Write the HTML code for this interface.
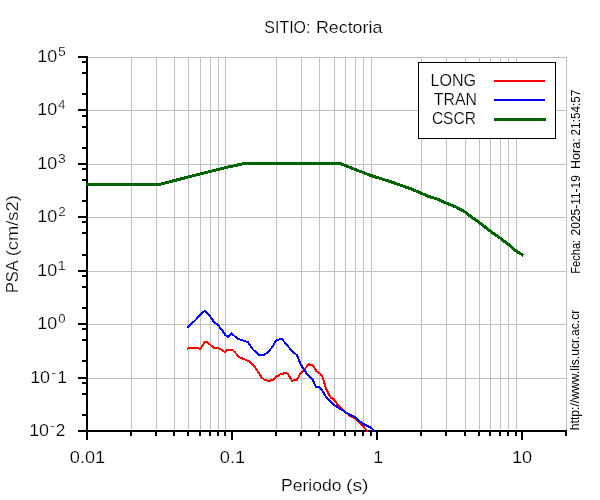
<!DOCTYPE html><html><head><meta charset="utf-8"><style>html,body{margin:0;padding:0;background:#fff;overflow:hidden}svg{display:block;will-change:transform}text{font-family:"Liberation Sans",sans-serif;fill:#000;stroke:#fff;stroke-width:0.2px}</style></head><body>
<svg width="600" height="500" viewBox="0 0 600 500">
<rect width="600" height="500" fill="#fff"/>
<path d="M131.5 57V431 M156.5 57V431 M174.5 57V431 M188.5 57V431 M200.5 57V431 M210.5 57V431 M218.5 57V431 M225.5 57V431 M276.5 57V431 M301.5 57V431 M319.5 57V431 M334.5 57V431 M345.5 57V431 M355.5 57V431 M363.5 57V431 M371.5 57V431 M421.5 57V431 M446.5 57V431 M465.5 57V431 M479.5 57V431 M490.5 57V431 M500.5 57V431 M508.5 57V431 M516.5 57V431 M566.5 57V431 M87 378.5H567 M87 324.5H567 M87 271.5H567 M87 217.5H567 M87 164.5H567 M87 110.5H567 M87 57.5H567" stroke="#c0c0c0" stroke-width="1" fill="none"/>
<path d="M78 431H88 M82 415H88 M82 394H88 M82 383H88 M78 378H88 M82 361H88 M82 340H88 M82 329H88 M78 324H88 M82 308H88 M82 287H88 M82 276H88 M78 271H88 M82 255H88 M82 233H88 M82 222H88 M78 217H88 M82 201H88 M82 180H88 M82 169H88 M78 164H88 M82 148H88 M82 127H88 M82 116H88 M78 110H88 M82 94H88 M82 73H88 M82 62H88 M78 57H88 M87 430V440 M232 430V440 M377 430V440 M522 430V440 M131 430V436 M156 430V436 M174 430V436 M188 430V436 M200 430V436 M210 430V436 M218 430V436 M225 430V436 M276 430V436 M301 430V436 M319 430V436 M334 430V436 M345 430V436 M355 430V436 M363 430V436 M371 430V436 M421 430V436 M446 430V436 M465 430V436 M479 430V436 M490 430V436 M500 430V436 M508 430V436 M516 430V436 M566 430V436 M87 56V432 M86 431H567" stroke="#000" stroke-width="2" fill="none"/>
<defs><clipPath id="c"><rect x="86" y="56" width="481" height="376"/></clipPath></defs>
<g clip-path="url(#c)" fill="none" stroke-linejoin="miter" shape-rendering="crispEdges">
<polyline points="187,349 190.5,347.6 196.5,347.6 200.3,349 205,341.8 207.2,342.2 214,348 218.3,348 225,352 227.5,349.6 232,349.6 234.9,352.2 239.1,357.1 244,359.2 248.9,361.3 255.2,367.6 258.7,372.5 261.5,377.4 265,380.2 269.2,380.9 273.4,379.5 276.2,376.7 280.4,374.3 286,372.9 287.8,374.1 292,380.7 296.9,379.7 300.4,373.4 304.6,369.2 308.8,364.3 313,365.7 316.5,371.3 320,373.4 322.8,377.6 326,388.4 329,394.4 330.8,397.8 333.8,399.2 336.8,403.4 339.2,406.4 344,411 350,416 354.8,418.4 361.3,424.4 367.8,431.5" stroke="#ff0000" stroke-width="2"/>
<polyline points="187.3,327.3 195.2,320.4 201.8,313.2 204.8,310.8 209.6,315.6 213.8,321.6 217.4,324.6 221.6,329.4 225.2,334.8 228.2,337 231.8,333.6 237.7,338.9 242.6,340.3 248.2,342.4 252.4,349 259.4,355.2 263.6,355.2 267.8,352.2 272.7,346.6 275.5,341 278.3,339.6 281.8,339 286,343.8 291.3,350.3 296.9,355.2 300.4,363.6 303.2,368.5 308.1,375.5 313,380.4 315.8,386.7 318.6,386.7 322.1,390.2 326.6,398 332,403.4 338,407.6 344,411.2 350,414.8 354.8,417.2 362,423.2 368,426.2 371.6,428 374,431" stroke="#0000ff" stroke-width="2"/>
<polyline points="86,184.5 159,184.5 174.2,180.6 200,174 225,167.7 245,163.4 340,163.4 355,169.4 371.7,175.8 390,181.5 410,188.5 421.7,193.4 428,196.3 436,198.5 446,203 455,206.5 465.5,212.3 470,216 475,219.5 480,223 485,227 490,231 495,234.5 500,238 508,244 516,251 523.5,255.5" stroke="#006400" stroke-width="3"/>
</g>
<rect x="418.5" y="62.5" width="137" height="76" fill="#fff" stroke="#000" stroke-width="1"/>
<path d="M494 81H545" stroke="#ff0000" stroke-width="2"/>
<path d="M494 100H545" stroke="#0000ff" stroke-width="2"/>
<path d="M494 119.5H546" stroke="#006400" stroke-width="3"/>
<text x="264.37" y="33" font-size="16.6" textLength="46.12" lengthAdjust="spacingAndGlyphs">SITIO:</text>
<text x="315.95" y="33" font-size="16.6" textLength="66.43" lengthAdjust="spacingAndGlyphs">Rectoria</text>
<text x="280.92" y="490.5" font-size="16.6" textLength="60.59" lengthAdjust="spacingAndGlyphs">Periodo</text>
<text x="345.93" y="490.5" font-size="16.6" textLength="22.64" lengthAdjust="spacingAndGlyphs">(s)</text>
<text x="69.83" y="463" font-size="16.6" textLength="35.41" lengthAdjust="spacingAndGlyphs">0.01</text>
<text x="219.81" y="463" font-size="16.6" textLength="25.28" lengthAdjust="spacingAndGlyphs">0.1</text>
<text x="373.28" y="463" font-size="16.6" textLength="9.76" lengthAdjust="spacingAndGlyphs">1</text>
<text x="511.91" y="463" font-size="16.6" textLength="20.21" lengthAdjust="spacingAndGlyphs">10</text>
<text x="430.48" y="85.8" font-size="16.6" textLength="45.65" lengthAdjust="spacingAndGlyphs">LONG</text>
<text x="433.78" y="104.7" font-size="16.6" textLength="43.14" lengthAdjust="spacingAndGlyphs">TRAN</text>
<text x="431.89" y="123.8" font-size="16.6" textLength="44.07" lengthAdjust="spacingAndGlyphs">CSCR</text>
<text transform="translate(18,293.07) rotate(-90)" font-size="16.6" textLength="32.77" lengthAdjust="spacingAndGlyphs">PSA</text>
<text transform="translate(18,256.35) rotate(-90)" font-size="16.6" textLength="61.24" lengthAdjust="spacingAndGlyphs">(cm/s2)</text>
<text transform="translate(579.6,273.70) rotate(-90)" font-size="12" style="stroke-width:0" textLength="33.88" lengthAdjust="spacingAndGlyphs">Fecha:</text>
<text transform="translate(579.6,235.40) rotate(-90)" font-size="12" style="stroke-width:0" textLength="60.18" lengthAdjust="spacingAndGlyphs">2025-11-19</text>
<text transform="translate(579.6,169.04) rotate(-90)" font-size="12" style="stroke-width:0" textLength="30.70" lengthAdjust="spacingAndGlyphs">Hora:</text>
<text transform="translate(579.6,135.41) rotate(-90)" font-size="12" style="stroke-width:0" textLength="45.73" lengthAdjust="spacingAndGlyphs">21:54:57</text>
<text transform="translate(579,430.28) rotate(-90)" font-size="12" style="stroke-width:0" textLength="120.58" lengthAdjust="spacingAndGlyphs">http://www.lis.ucr.ac.cr</text>
<text x="37.16" y="329" font-size="16.6" textLength="20.00" lengthAdjust="spacingAndGlyphs">10</text>
<text x="58.30" y="323" font-size="12.5" textLength="7.31" lengthAdjust="spacingAndGlyphs">0</text>
<text x="37.16" y="276" font-size="16.6" textLength="20.00" lengthAdjust="spacingAndGlyphs">10</text>
<text x="57.45" y="270" font-size="12.5" textLength="8.47" lengthAdjust="spacingAndGlyphs">1</text>
<text x="37.16" y="222" font-size="16.6" textLength="20.00" lengthAdjust="spacingAndGlyphs">10</text>
<text x="58.17" y="216" font-size="12.5" textLength="7.52" lengthAdjust="spacingAndGlyphs">2</text>
<text x="37.16" y="169" font-size="16.6" textLength="20.00" lengthAdjust="spacingAndGlyphs">10</text>
<text x="58.05" y="163" font-size="12.5" textLength="7.73" lengthAdjust="spacingAndGlyphs">3</text>
<text x="37.16" y="115" font-size="16.6" textLength="20.00" lengthAdjust="spacingAndGlyphs">10</text>
<text x="58.32" y="109" font-size="12.5" textLength="7.16" lengthAdjust="spacingAndGlyphs">4</text>
<text x="37.16" y="62" font-size="16.6" textLength="20.00" lengthAdjust="spacingAndGlyphs">10</text>
<text x="57.95" y="56" font-size="12.5" textLength="7.77" lengthAdjust="spacingAndGlyphs">5</text>
<text x="30.17" y="383" font-size="16.6" textLength="19.92" lengthAdjust="spacingAndGlyphs">10</text>
<text x="51.28" y="377" font-size="12.5" textLength="4.73" lengthAdjust="spacingAndGlyphs">-</text>
<text x="57.28" y="383" font-size="16.6" textLength="9.76" lengthAdjust="spacingAndGlyphs">1</text>
<text x="29.17" y="436" font-size="16.6" textLength="19.92" lengthAdjust="spacingAndGlyphs">10</text>
<text x="50.02" y="430" font-size="12.5" textLength="5.28" lengthAdjust="spacingAndGlyphs">-</text>
<text x="55.68" y="436" font-size="16.6" textLength="9.56" lengthAdjust="spacingAndGlyphs">2</text>
</svg></body></html>
